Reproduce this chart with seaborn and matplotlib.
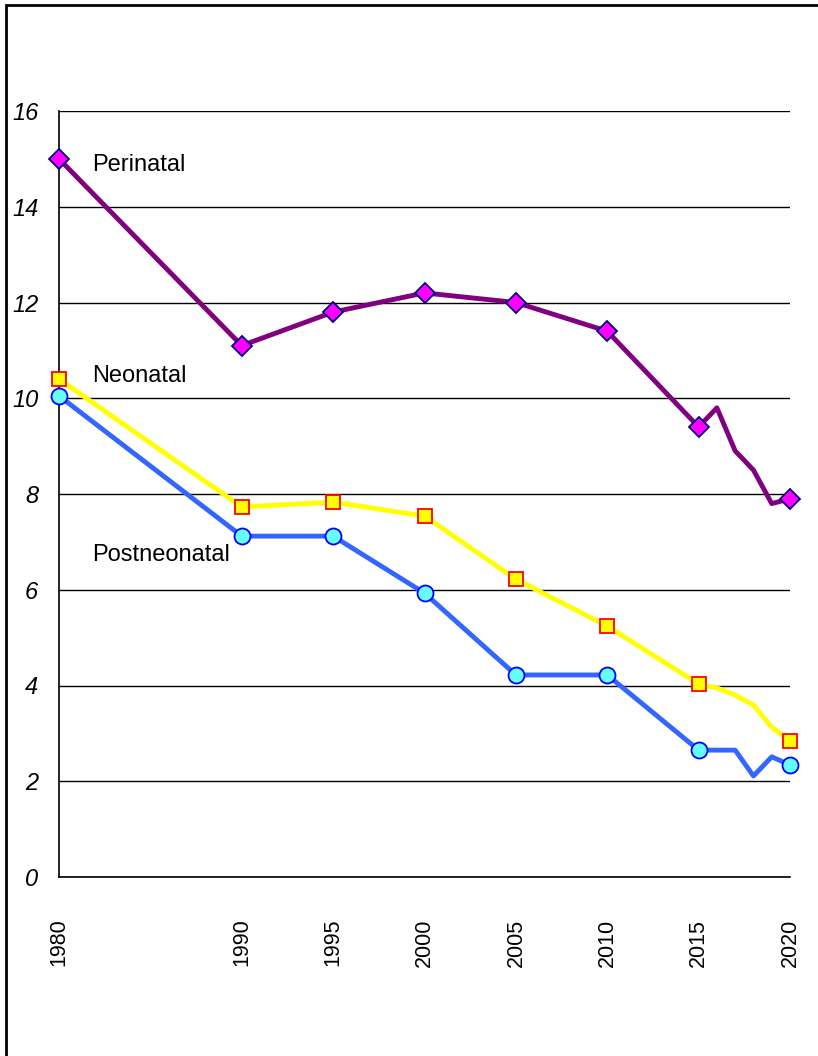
import matplotlib.pyplot as plt
import numpy as np
import pandas as pd
import seaborn as sns
from matplotlib.patches import Rectangle

years = [1980, 1990, 1995, 2000, 2005, 2010, 2015, 2016, 2017, 2018, 2019, 2020]
perinatal = [15.0, 11.1, 11.8, 12.2, 12.0, 11.4, 9.4, 9.8, 8.9, 8.5, 7.8, 7.9]
neonatal = [10.4, 7.73, 7.83, 7.54, 6.22, 5.24, 4.03, 3.95, 3.8, 3.59, 3.13, 2.84]
postneonatal = [10.05, 7.12, 7.12, 5.93, 4.22, 4.22, 2.65, 2.65, 2.65, 2.11, 2.51, 2.34]
tick_years = [1980, 1990, 1995, 2000, 2005, 2010, 2015, 2020]

df = pd.DataFrame({"year": years, "Perinatal": perinatal,
                   "Neonatal": neonatal, "Postneonatal": postneonatal})
mark_idx = [i for i, y in enumerate(years) if y in tick_years]

sns.set_theme(style="white")
plt.rcParams["font.family"] = ["Liberation Sans", "DejaVu Sans"]
plt.rcParams["text.color"] = "black"
plt.rcParams["xtick.color"] = "black"
plt.rcParams["ytick.color"] = "black"

fig = plt.figure(figsize=(8.18, 10.56), dpi=100)
ax = fig.add_axes([59 / 818, 1 - 877 / 1056, 731 / 818, 766 / 1056])

styles = {
    "Postneonatal": dict(color="#3366FF", marker="o", markersize=11.5,
                         markerfacecolor="#66FFFF", markeredgecolor="#0000FF"),
    "Neonatal": dict(color="#FFFF00", marker="s", markersize=9.5,
                     markerfacecolor="#FFFF00", markeredgecolor="#FF0000"),
    "Perinatal": dict(color="#800080", marker="D", markersize=10.5,
                      markerfacecolor="#FF00FF", markeredgecolor="#000080"),
}
for name, st in styles.items():
    sns.lineplot(data=df, x="year", y=name, ax=ax, linewidth=3.5,
                 markevery=mark_idx, markeredgewidth=1.3, zorder=3,
                 clip_on=False, **st)

ax.set_xlim(1980, 2020)
ax.set_ylim(0, 16)
ax.set_yticks(np.arange(0, 17, 2))
ax.set_xticks(tick_years)
ax.set_xticklabels([str(y) for y in tick_years], rotation=90, fontsize=15.5)
ax.set_yticklabels([str(v) for v in range(0, 17, 2)], fontsize=17, style="italic")
ax.yaxis.grid(True, color="black", linewidth=1)
ax.set_axisbelow(True)
ax.set_xlabel("")
ax.set_ylabel("")
for s in ["top", "right"]:
    ax.spines[s].set_visible(False)
for s in ["left", "bottom"]:
    ax.spines[s].set_color("black")
    ax.spines[s].set_linewidth(1.2)
ax.tick_params(axis="x", direction="out", length=10, width=1, pad=20)
ax.tick_params(axis="y", direction="out", length=5, width=1, pad=10)
ax.xaxis.get_major_ticks()[0].tick1line.set_visible(False)

ax.text(1981.8, 14.87, "Perinatal", fontsize=17, va="center")
ax.text(1981.8, 10.46, "Neonatal", fontsize=17, va="center")
ax.text(1981.8, 6.73, "Postneonatal", fontsize=17, va="center")

fig.patches.append(Rectangle((6 / 818, -0.1), 1.2, (1056 - 5) / 1056 + 0.1,
                             transform=fig.transFigure, fill=False,
                             edgecolor="black", linewidth=2))

fig.savefig("out.png", dpi=100)
